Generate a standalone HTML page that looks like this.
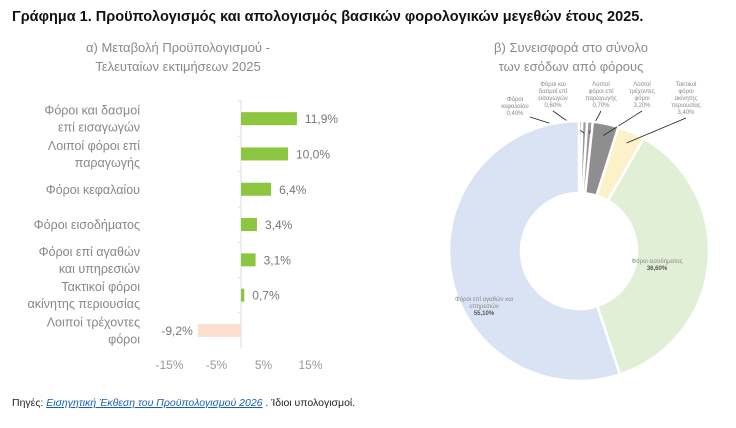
<!DOCTYPE html>
<html><head><meta charset="utf-8"><style>
body{margin:0;width:736px;height:428px;background:#fff;font-family:"Liberation Sans","DejaVu Sans",sans-serif;overflow:hidden}
svg{position:absolute;left:0;top:0}
</style></head><body>
<svg width="736" height="428">
<text x="12" y="21" font-size="14.5" font-weight="bold" fill="#111">Γράφημα 1. Προϋπολογισμός και απολογισμός βασικών φορολογικών μεγεθών έτους 2025.</text>
<g fill="#8a8a8a" font-size="13" text-anchor="middle">
<text x="178" y="52">α) Μεταβολή Προϋπολογισμού -</text>
<text x="178" y="71">Τελευταίων εκτιμήσεων 2025</text>
<text x="571" y="52">β) Συνεισφορά στο σύνολο</text>
<text x="571" y="71">των εσόδων από φόρους</text>
</g>
<g id="bars"></g>
<g id="pie"></g>
<text x="12" y="406" font-size="10.5" fill="#222">Πηγές: <tspan fill="#1a5fb4" text-decoration="underline" font-style="italic">Εισηγητική Έκθεση του Προϋπολογισμού 2026</tspan> . Ίδιοι υπολογισμοί.</text>
</svg>
<script>
const barCats=[["Φόροι και δασμοί","επί εισαγωγών"],["Λοιποί φόροι επί","παραγωγής"],["Φόροι κεφαλαίου"],["Φόροι εισοδήματος"],["Φόροι επί αγαθών","και υπηρεσιών"],["Τακτικοί φόροι","ακίνητης περιουσίας"],["Λοιποί τρέχοντες","φόροι"]];
const barVals=[11.9,10.0,6.4,3.4,3.1,0.7,-9.2];
const barLabels=["11,9%","10,0%","6,4%","3,4%","3,1%","0,7%","-9,2%"];
const xTicks=[-15,-5,5,15];
const pieCats=[["Φόροι","κεφαλαίου"],["Φόροι και","δασμοί επί","εισαγωγών"],["Λοιποί","φόροι επί","παραγωγής"],["Λοιποί","τρέχοντες","φόροι"],["Τακτικοί","φόροι","ακίνητης","περιουσίας"],["Φόροι εισοδήματος"],["Φόροι επί αγαθών και","υπηρεσιών"]];
const pieVals=[0.4,0.6,0.7,3.2,3.4,36.6,55.1];
const pieLabels=["0,40%","0,60%","0,70%","3,20%","3,40%","36,60%","55,10%"];
const NS="http://www.w3.org/2000/svg";
function mk(t,a,p){const e=document.createElementNS(NS,t);for(const k in a)e.setAttribute(k,a[k]);p.appendChild(e);return e;}
const bg=document.getElementById('bars');
const x=v=>241+v*4.7, y0=101, step=35.3;
mk('line',{x1:241,y1:y0,x2:241,y2:y0+step*7,stroke:'#ddd'},bg);
barVals.forEach((v,i)=>{
 const cy=y0+step*(i+0.5);
 mk('line',{x1:238,y1:y0+step*i,x2:241,y2:y0+step*i,stroke:'#ddd'},bg);
 const r=mk('rect',{x:Math.min(x(0),x(v)),y:cy-6.5,width:Math.abs(x(v)-x(0)),height:13,fill:v>=0?'#8cc63f':'#fbe0d2'},bg);
 
 
 const l=mk('text',{x:v>=0?x(v)+8:x(v)-5,y:cy+4.5,'font-size':12,fill:'#777','text-anchor':v>=0?'start':'end'},bg);l.textContent=barLabels[i];
 
 
 const c=barCats[i];
 c.forEach((s,j)=>{const t=mk('text',{x:140,y:cy+4.5+(j-(c.length-1)/2)*17,'font-size':12.5,fill:'#888','text-anchor':'end'},bg);t.textContent=s;
 
 });
});
xTicks.forEach(t=>{const e=mk('text',{x:x(t)-1,y:369,'font-size':12,fill:'#999','text-anchor':'middle'},bg);e.textContent=t+'%';
 
 });
const pg=document.getElementById('pie');
const cx=579,cy=251,R=130,r0=58;
const cols=['#999','#999','#999','#8e8e8e','#fdf1c9','#e2efd7','#dae3f3'];
const lab=[[515,101,573,128,'end'],[553,86,580,126,'middle'],[601,86,586,126,'middle'],[642,86,604,133,'middle'],[686,86,628,146,'middle'],[657,263,0,0,'middle'],[484,301,0,0,'middle']];
let a=0;const tot=pieVals.reduce((s,v)=>s+v,0);
const P=(ang,rad)=>[cx+rad*Math.sin(ang),cy-rad*Math.cos(ang)];
pieVals.forEach((v,i)=>{
 const a1=a+v/tot*2*Math.PI;const big=a1-a>Math.PI?1:0;
 const [x1,y1]=P(a,R),[x2,y2]=P(a1,R),[x3,y3]=P(a1,r0),[x4,y4]=P(a,r0);
 const p=mk('path',{d:`M${x1},${y1}A${R},${R} 0 ${big} 1 ${x2},${y2}L${x3},${y3}A${r0},${r0} 0 ${big} 0 ${x4},${y4}Z`,fill:cols[i],stroke:'#fff','stroke-width':2.5},pg);
 
 
 const L=lab[i];const small=i<5;
 const lines=pieCats[i].concat([pieLabels[i]]);
 lines.forEach((s,j)=>{const t=mk('text',{x:L[0],y:L[1]+j*7,'font-size':6,fill:'#888','text-anchor':'middle','font-weight':(!small&&j==lines.length-1)?'bold':'normal'},pg);
  if(!small&&j==lines.length-1)t.setAttribute('fill','#555');
  t.textContent=s;
  
  });
 if(small){const [mx,my]=P((a+a1)/2,R-12);const ly=L[1]+lines.length*7-3;
  mk('line',{x1:i==0?L[0]+15:L[0],y1:i==0?L[1]+16:ly,x2:mx,y2:my,stroke:'#222','stroke-width':0.8},pg);}
 a=a1;
});
</script>
</body></html>
